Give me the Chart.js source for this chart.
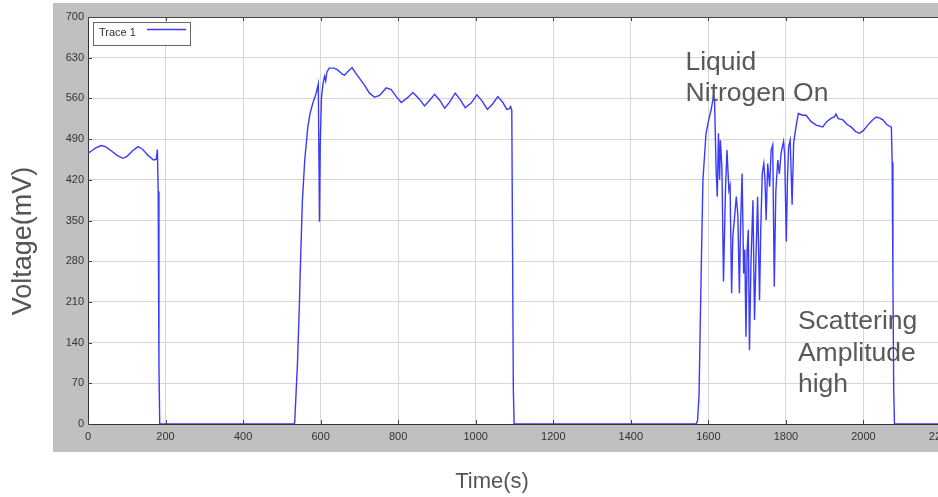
<!DOCTYPE html>
<html>
<head>
<meta charset="utf-8">
<script src="https://cdn.jsdelivr.net/npm/chart.js@4.4.1/dist/chart.umd.min.js"></script>
<style>
	html, body { margin: 0; padding: 0; background: #fff; overflow: hidden; }
	#wrap { width: 960px; height: 497px; }
</style>
</head>
<body>
<div id="wrap"><canvas id="trace-chart" width="960" height="497"></canvas></div>
<script>
var timeS = [
	0, 10, 20, 34, 45, 60, 75, 90, 100, 115, 129, 140, 155, 169, 176, 179, 181, 183, 185,
	530, 533, 540, 545, 547, 550, 553, 559, 567, 573, 580, 588, 594, 597, 599, 602, 606, 610, 613, 616, 622,
	635, 644, 655, 662, 670, 681, 690, 700, 713, 726, 739, 752, 769, 782, 795, 808, 822, 838, 853, 868,
	880, 894, 908, 920, 933, 947, 960, 973, 988, 1003, 1017, 1030, 1043, 1057, 1070, 1080, 1086, 1090,
	1093, 1095, 1097, 1099,
	1568, 1572, 1576, 1579, 1582, 1586, 1590, 1594, 1600, 1607, 1613, 1616, 1620, 1623, 1626, 1629, 1631,
	1635, 1639, 1644, 1648, 1653, 1656, 1660, 1663, 1667, 1672, 1676, 1680, 1683, 1687, 1691, 1694, 1697,
	1700, 1703, 1706, 1710, 1715, 1719, 1723, 1727, 1732, 1735, 1739, 1743, 1746, 1749, 1753, 1758, 1762,
	1766, 1770, 1774, 1779, 1783, 1788, 1794, 1797, 1801, 1804, 1807, 1811, 1816, 1820, 1826, 1832, 1843,
	1852, 1865, 1878, 1895, 1905, 1917, 1925, 1929, 1935, 1947, 1958, 1968, 1980, 1990, 2000, 2011, 2022,
	2033, 2042, 2050, 2060, 2068, 2072, 2074, 2076, 2078, 2080, 2200
];
var voltageMV = [
	466, 470, 475, 479, 477, 470, 462, 457, 460, 470, 477, 473, 462, 454, 455, 472, 400, 100, 0,
	0, 2, 100, 200, 253, 320, 385, 454, 511, 535, 552, 568, 585, 348, 480, 560, 585, 598, 590, 605, 612,
	612, 609, 602, 600, 606, 613, 604, 595, 583, 569, 562, 565, 578, 575, 563, 553, 560, 570, 560, 547,
	556, 567, 556, 543, 554, 569, 558, 544, 552, 566, 555, 541, 550, 563, 553, 541, 542, 546,
	540, 300, 60, 0,
	0, 5, 50, 170, 280, 420, 460, 500, 520, 540, 563, 555, 437, 391, 500, 420, 488,
	440, 245, 400, 471, 402, 410, 225, 322, 351, 391, 360, 225, 340, 431, 259, 300, 150,
	300, 334, 127, 280, 385, 179, 290, 391, 213, 330, 431, 448, 420, 351, 448, 408, 471,
	480, 236, 400, 454, 430, 468, 486, 460, 314, 420, 477, 488, 377, 483, 511, 534, 531,
	531, 520, 514, 511, 520, 526, 528, 533, 525, 523, 515, 511, 503, 500, 505, 514, 522,
	528, 526, 523, 515, 512, 510, 450, 250, 60, 0, 0
];
var seriesLabel = 'Trace 1';
var xTitle = 'Time(s)';
var yTitle = 'Voltage(mV)';
var notes = [
	{ t: 1541, v: 609, lines: ['Liquid', 'Nitrogen On'] },
	{ t: 1831, v: 163, lines: ['Scattering', 'Amplitude', 'high'] }
];

var points = timeS.map(function (t, i) { return { x: t, y: voltageMV[i] }; });
var lineColor = 'rgb(58, 58, 255)';
var font = '"Liberation Sans", Arial, sans-serif';

var framePlugin = {
	id: 'frame',
	beforeDraw: function (chart) {
		var ctx = chart.ctx, a = chart.chartArea;
		ctx.save();
		ctx.fillStyle = '#fff';
		ctx.fillRect(0, 0, chart.width, chart.height);
		ctx.fillStyle = '#c0c0c0';
		ctx.fillRect(53, 3, chart.width - 53, 449);
		ctx.fillStyle = '#fff';
		ctx.fillRect(a.left, a.top, a.right - a.left, a.bottom - a.top);
		ctx.restore();
	},
	afterDraw: function (chart) {
		var ctx = chart.ctx, a = chart.chartArea;
		var xs = chart.scales.x, ys = chart.scales.y;
		ctx.save();

		// inward tick marks
		ctx.strokeStyle = '#444';
		ctx.lineWidth = 1;
		ctx.beginPath();
		xs.ticks.forEach(function (tk) {
			var px = Math.round(xs.getPixelForValue(tk.value)) + 0.5;
			ctx.moveTo(px, a.bottom); ctx.lineTo(px, a.bottom - 4);
			ctx.moveTo(px, a.top); ctx.lineTo(px, a.top + 4);
		});
		ys.ticks.forEach(function (tk) {
			var py = Math.round(ys.getPixelForValue(tk.value)) + 0.5;
			ctx.moveTo(a.left, py); ctx.lineTo(a.left + 4, py);
		});
		ctx.moveTo(a.left, a.top + 0.5); ctx.lineTo(a.right, a.top + 0.5);
		ctx.stroke();

		// legend box
		var lx = a.left + 5, ly = a.top + 5;
		ctx.fillStyle = '#fff';
		ctx.fillRect(lx, ly, 97, 23);
		ctx.strokeStyle = '#666';
		ctx.strokeRect(lx + 0.5, ly + 0.5, 97, 23);
		ctx.fillStyle = '#333';
		ctx.font = '11px ' + font;
		ctx.textBaseline = 'middle';
		ctx.fillText(chart.data.datasets[0].label, lx + 6, ly + 11);
		ctx.strokeStyle = lineColor;
		ctx.lineWidth = 1.5;
		ctx.beginPath();
		ctx.moveTo(lx + 54, ly + 7.5); ctx.lineTo(lx + 93, ly + 7.5);
		ctx.stroke();

		// notes
		ctx.fillStyle = '#595959';
		ctx.font = '26.5px ' + font;
		ctx.textBaseline = 'alphabetic';
		notes.forEach(function (n) {
			var px = xs.getPixelForValue(n.t), py = ys.getPixelForValue(n.v);
			n.lines.forEach(function (s, i) { ctx.fillText(s, px, py + i * 31.5); });
		});

		// axis titles
		ctx.fillStyle = '#555';
		ctx.textAlign = 'center';
		ctx.textBaseline = 'middle';
		ctx.font = '22px ' + font;
		ctx.fillText(xTitle, 492, 482);
		ctx.translate(24, 241);
		ctx.rotate(-Math.PI / 2);
		ctx.font = '27px ' + font;
		ctx.fillText(yTitle, 0, 0);
		ctx.restore();
	}
};

var traceChart = new Chart(document.getElementById('trace-chart'), {
	type: 'line',
	data: {
		datasets: [{
			label: seriesLabel,
			data: points,
			borderColor: lineColor,
			borderWidth: 1.4,
			pointRadius: 0,
			tension: 0,
			fill: false
		}]
	},
	options: {
		responsive: false,
		animation: false,
		layout: { padding: { left: 0, top: 17, right: 19, bottom: 0 } },
		plugins: { legend: { display: false }, tooltip: { enabled: false } },
		scales: {
			x: {
				type: 'linear',
				min: 0,
				max: 2200,
				afterFit: function (s) { s.height = 73; },
				border: { color: '#333', width: 1 },
				grid: { color: '#d6d6d6', drawTicks: false },
				ticks: {
					stepSize: 200, padding: 6, maxRotation: 0, color: '#333',
					font: { size: 11, family: font },
					callback: function (v) { return String(v); }
				}
			},
			y: {
				min: 0,
				max: 700,
				afterFit: function (s) { s.width = 88; },
				border: { color: '#333', width: 1 },
				grid: { color: '#d6d6d6', drawTicks: false },
				ticks: {
					stepSize: 70, padding: 4, color: '#333',
					font: { size: 11, family: font },
					callback: function (v) { return String(v); }
				}
			}
		}
	},
	plugins: [framePlugin]
});
</script>
</body>
</html>
